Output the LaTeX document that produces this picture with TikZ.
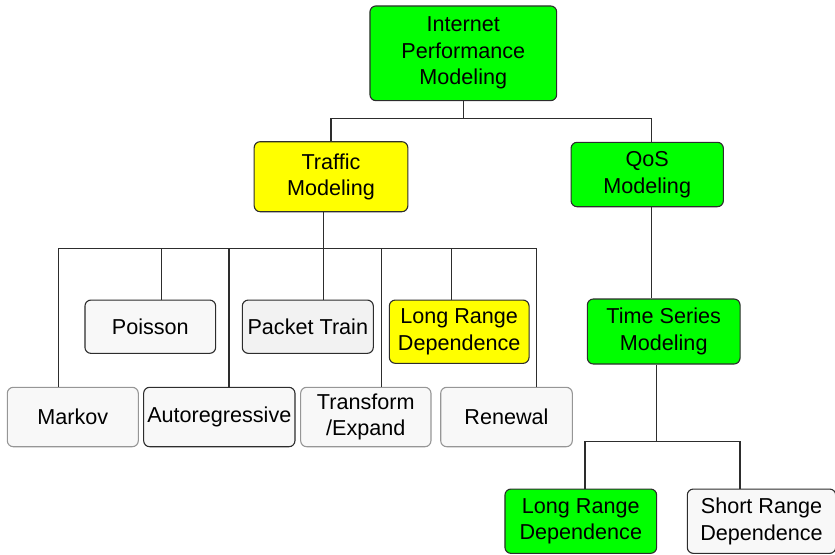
\documentclass[tikz,border=0pt]{standalone}
\usepackage{fontspec}
\setmainfont{Liberation Sans}
\usetikzlibrary{positioning,calc}
\definecolor{brightgreen}{RGB}{0,255,0}
\definecolor{brightyellow}{RGB}{255,255,0}
\definecolor{leafgray}{RGB}{248,248,248}
\definecolor{leafgraydk}{RGB}{242,242,242}
\definecolor{edgedark}{RGB}{45,45,45}
\definecolor{edgelight}{RGB}{150,150,150}

\begin{document}
\begin{tikzpicture}[x=1pt,y=-1pt,
 b/.style={rectangle,rounded corners=6pt,draw=edgedark,line width=1.1pt,align=center,inner sep=0pt,font=\fontsize{21.6}{26.5}\selectfont},
 lb/.style={b,draw=edgelight},
 c/.style={draw=edgedark,line width=1.1pt}]
\useasboundingbox (0,0) rectangle (835,554);
% top levels
\node[b,fill=brightgreen,minimum width=186.7pt,minimum height=94.7pt] (root) at (463.3,53.3) {Internet\\Performance\\Modeling};
\node[b,fill=brightyellow,minimum width=153.7pt,minimum height=70pt] (traf) at (331,176.7) {Traffic\\Modeling};
\node[b,fill=brightgreen,minimum width=152.3pt,minimum height=64.4pt] (qos) at (647.2,174.5) {QoS\\Modeling};
% traffic models
\node[b,fill=leafgray,minimum width=130.7pt,minimum height=53.3pt] (poisson) at (150.3,326.7) {Poisson};
\node[b,fill=leafgraydk,minimum width=131pt,minimum height=53.3pt] (pktr) at (307.8,326.7) {Packet Train};
\node[b,fill=brightyellow,minimum width=139.7pt,minimum height=63.3pt] (lrdy) at (459.2,331.7) {Long Range\\Dependence};
\node[lb,fill=leafgray,minimum width=131pt,minimum height=59.4pt] (markov) at (72.8,417) {Markov};
\node[b,fill=leafgray,minimum width=151.3pt,minimum height=59.4pt] (autoreg) at (219.3,417) {Autoregressive};
\node[lb,fill=leafgray,minimum width=130.3pt,minimum height=59.4pt] (trans) at (365.8,417) {Transform\\/Expand};
\node[lb,fill=leafgray,minimum width=131.6pt,minimum height=59.4pt] (renew) at (506.5,417) {Renewal};
% QoS side
\node[b,fill=brightgreen,minimum width=152.7pt,minimum height=65pt] (tsm) at (663.7,331.5) {Time Series\\Modeling};
\node[b,fill=brightgreen,minimum width=151.7pt,minimum height=64.3pt] (lrdg) at (580.8,521.2) {Long Range\\Dependence};
\node[b,fill=leafgray,minimum width=148.4pt,minimum height=64.3pt] (srd) at (761.5,521.2) {Short Range\\Dependence};
% connectors
\draw[c] (root.south) -- ++(0,17) coordinate (rj);
\draw[c] (traf.north) |- (rj) -| ([xshift=4.5pt]qos.north);
\draw[c] ([xshift=-7.7pt]traf.south) -- ++(0,36) coordinate (tj);
\foreach \n/\dx in {markov/-14.5,poisson/11.4,autoreg/9.7,pktr/15.5,trans/15.9,lrdy/-7.5,renew/30.2}
  \draw[c] (tj) -| ([xshift=\dx pt]\n.north);
\draw[c] ([xshift=4.5pt]qos.south) -- ([xshift=4.5pt]qos.south |- tsm.north);
\draw[c] ([xshift=-7pt]tsm.south) -- ++(0,76.7) coordinate (sj);
\draw[c] (sj) -| ([xshift=4.2pt]lrdg.north);
\draw[c] (sj) -| ([xshift=-21.5pt]srd.north);
\end{tikzpicture}
\end{document}
